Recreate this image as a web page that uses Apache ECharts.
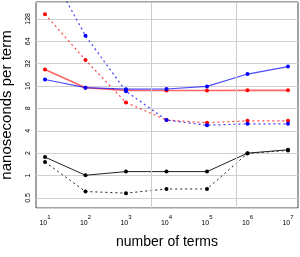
<!DOCTYPE html>
<html><head><meta charset="utf-8">
<script src="https://cdn.jsdelivr.net/npm/echarts@6/dist/echarts.min.js"></script>
<style>html,body{margin:0;padding:0;background:#fff}#c{width:300px;height:257px}</style>
</head><body><div id="c"></div>
<script>
const terms = [1e1, 1e2, 1e3, 1e4, 1e5, 1e6, 1e7];
const redSolid = [26.7, 15.2, 13.9, 13.9, 13.9, 14.0, 14.0];
const blueSolid = [19.6, 15.2, 14.5, 14.6, 15.8, 23.2, 29.2];
const redDashed = [148, 35.7, 9.6, 5.58, 5.13, 5.45, 5.45];
const blueDashed = [750, 76, 13.6, 5.58, 4.75, 4.96, 4.96];
const blackSolid = [1.77, 1.01, 1.13, 1.13, 1.13, 2.0, 2.22];
const blackDashed = [1.52, 0.61, 0.58, 0.66, 0.66, 1.98, 2.18];
const yTicks = [0.5, 1, 2, 4, 8, 16, 32, 64, 128];
const vGrid = [4170, 525000];
const xTitle = 'number of terms';
const yTitle = 'nanoseconds per term';

const font = 'Liberation Sans, Arial, sans-serif';
function pts(arr) { return terms.map((t, i) => [t, arr[i]]); }
function mk(name, arr, lineColor, markColor, width, dashed) {
  return {
    name, type: 'line', data: pts(arr), clip: true,
    symbol: 'circle', symbolSize: 4,
    itemStyle: { color: markColor },
    lineStyle: { color: lineColor, width: width, type: dashed ? [2, 3] : 'solid' },
    emphasis: { disabled: true }, animation: false
  };
}
const chart = echarts.init(document.getElementById('c'), null, { renderer: 'canvas' });
const series = [
  mk('bs', blackSolid, '#222', '#000', 1, false),
  mk('bd', blackDashed, '#222', '#000', 1, true),
  mk('rs', redSolid, 'rgba(255,0,0,0.6)', '#ff0000', 1.6, false),
  mk('rd', redDashed, 'rgba(255,0,0,0.75)', '#ff0000', 1.2, true),
  mk('us', blueSolid, 'rgba(0,0,255,0.7)', '#0000ff', 1.2, false),
  mk('ud', blueDashed, 'rgba(0,0,255,0.75)', '#0000ff', 1.2, true)
];
series[0].markLine = {
  silent: true, symbol: 'none', label: { show: false }, animation: false,
  lineStyle: { color: '#cccccc', width: 1, type: 'solid' },
  data: vGrid.map(v => ({ xAxis: v }))
};
chart.setOption({
  backgroundColor: '#fff',
  animation: false,
  grid: { left: 36, right: 2, top: 2, bottom: 49, show: true, borderColor: '#444', borderWidth: 1,
          backgroundColor: 'transparent', outerBoundsMode: 'none', containLabel: false },
  xAxis: {
    type: 'log', logBase: 10, min: 6.0, max: 17660000,
    name: xTitle, nameLocation: 'middle', nameGap: 27,
    nameTextStyle: { fontFamily: font, fontSize: 14, color: '#000' },
    axisLine: { show: false }, axisTick: { show: false }, splitLine: { show: false },
    axisLabel: {
      margin: 6, color: '#000', fontFamily: font,
      formatter: function (v) {
        const e = Math.log10(v);
        if (Math.abs(e - Math.round(e)) > 1e-6) return '';
        return '{b|10}{s|' + Math.round(e) + '}';
      },
      rich: {
        b: { fontSize: 7, fontFamily: font, color: '#000', verticalAlign: 'bottom' },
        s: { fontSize: 6, fontFamily: font, color: '#000', padding: [0, 0, 7, 0] }
      }
    }
  },
  yAxis: {
    type: 'log', logBase: 2, min: 0.366, max: 216,
    name: yTitle, nameLocation: 'middle', nameGap: 22,
    nameTextStyle: { fontFamily: font, fontSize: 15, color: '#000' },
    axisLine: { show: false }, axisTick: { show: false },
    splitLine: { show: true, lineStyle: { color: '#d0d0d0', width: 1 } },
    axisLabel: {
      rotate: 90, margin: 4, fontSize: 7, fontFamily: font, color: '#000',
      formatter: function (v) {
        const l = Math.log2(v);
        if (Math.abs(l - Math.round(l)) > 1e-6) return '';
        const t = Math.pow(2, Math.round(l));
        return yTicks.indexOf(t) >= 0 ? String(t) : '';
      }
    }
  },
  series: series
});
</script></body></html>
